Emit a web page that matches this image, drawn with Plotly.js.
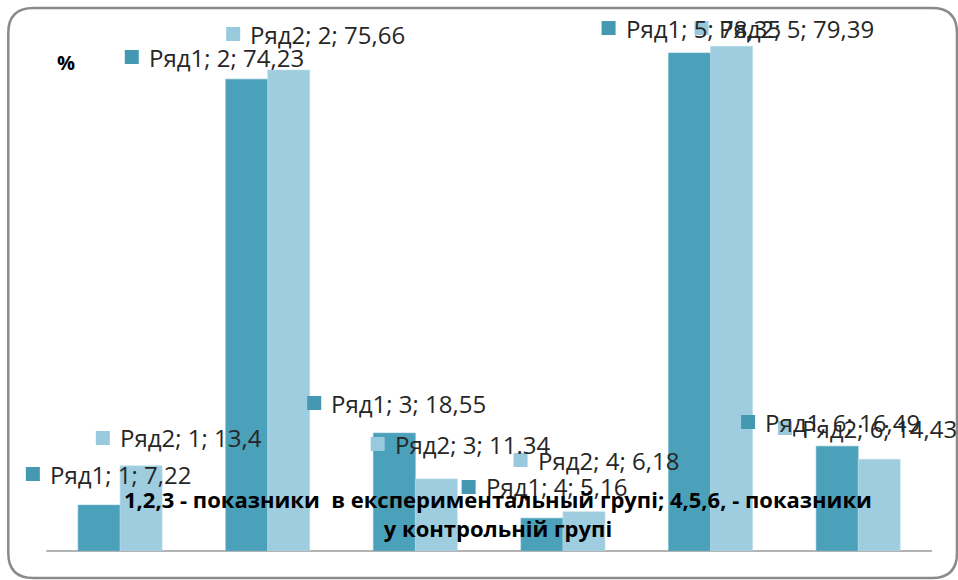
<!DOCTYPE html>
<html><head><meta charset="utf-8">
<script src="https://cdn.plot.ly/plotly-3.0.1.min.js"></script>
<style>html,body{margin:0;padding:0;background:#fff;}#chart{width:958px;height:580px;}</style>
</head><body><div id="chart"></div>
<script>
// ---- data ----
const categories = [1, 2, 3, 4, 5, 6];
const series1Name = 'Ряд1';
const series2Name = 'Ряд2';
const series1 = [7.22, 74.23, 18.55, 5.16, 78.35, 16.49];
const series2 = [13.4, 75.66, 11.34, 6.18, 79.39, 14.43];
const series1Labels = ['7,22', '74,23', '18,55', '5,16', '78,35', '16,49'];
const series2Labels = ['13,4', '75,66', '11.34', '6,18', '79,39', '14,43'];
const axisTitle = '1,2,3 - показники  в експериментальный групі; 4,5,6, - показники<br>у контрольній групі';
const unitLabel = '%';

// ---- label layout (Excel-style manual label placement) ----
const s1LabelX = [0.409, 1.079, 2.315, 3.361, 4.309, 5.254];
const s1LabelY = [12.11, 77.71, 23.28, 10.07, 82.27, 20.29];
const s2LabelX = [0.883, 1.766, 2.745, 3.713, 4.939, 5.504];
const s2LabelY = [17.78, 81.33, 16.83, 14.31, 82.27, 19.35];

const dark = '#4ba0ba', light = '#9ecde0';
const darkKey = '#4498b1', lightKey = '#98c9dc';
const txtFont = {family: 'Open Sans, sans-serif', size: 24, color: '#262626'};

const traces = [
  {type: 'bar', x: categories, y: series1, name: series1Name, marker: {color: dark, line: {color: '#6cb3c8', width: 0.6}}, hoverinfo: 'skip'},
  {type: 'bar', x: categories, y: series2, name: series2Name, marker: {color: light, line: {color: '#b8dbe8', width: 0.6}}, hoverinfo: 'skip'},
  {type: 'scatter', mode: 'markers', x: s1LabelX, y: s1LabelY, marker: {symbol: 'square', size: 14, color: darkKey}, cliponaxis: false, hoverinfo: 'skip'},
  {type: 'scatter', mode: 'markers', x: s2LabelX, y: s2LabelY, marker: {symbol: 'square', size: 14, color: lightKey}, cliponaxis: false, hoverinfo: 'skip'}
];

const annotations = [];
categories.forEach((c, i) => {
  annotations.push({x: s1LabelX[i], y: s1LabelY[i], xref: 'x', yref: 'y', text: series1Name + '; ' + c + '; ' + series1Labels[i],
    showarrow: false, xanchor: 'left', yanchor: 'middle', xshift: 15, font: txtFont});
  annotations.push({x: s2LabelX[i], y: s2LabelY[i], xref: 'x', yref: 'y', text: series2Name + '; ' + c + '; ' + series2Labels[i],
    showarrow: false, xanchor: 'left', yanchor: 'middle', xshift: 15, font: txtFont});
});
annotations.push({x: 0.56, y: 76.9, xref: 'x', yref: 'y', text: '<b>' + unitLabel + '</b>', showarrow: false,
  xanchor: 'left', yanchor: 'middle', font: {family: 'Open Sans, sans-serif', size: 20, color: '#000'}});
annotations.push({x: 3.561, y: 5.9, xref: 'x', yref: 'y', text: '<b>' + axisTitle + '</b>', showarrow: false,
  xanchor: 'center', yanchor: 'middle', align: 'center', font: {family: 'Open Sans, sans-serif', size: 22, color: '#000'}});

// plot box in pixels: category axis spans x 0.5..6.5 between px 46 and 932
const catPx = 886 / 6;
const xMin = 0.2, xMax = 6.5;
const R = 932, T = 11, H = 540;
const L = R - (xMax - xMin) * catPx, W = R - L;
const px = v => ((v - L) / W).toFixed(5);
const py = v => ((T + H - v) / H).toFixed(5);
const x0 = 8, x1 = 957, y0 = 8, y1 = 578, r = 25;
const path = `M${px(x0 + r)},${py(y0)} L${px(x1 - r)},${py(y0)} Q${px(x1)},${py(y0)} ${px(x1)},${py(y0 + r)} ` +
  `L${px(x1)},${py(y1 - r)} Q${px(x1)},${py(y1)} ${px(x1 - r)},${py(y1)} L${px(x0 + r)},${py(y1)} ` +
  `Q${px(x0)},${py(y1)} ${px(x0)},${py(y1 - r)} L${px(x0)},${py(y0 + r)} Q${px(x0)},${py(y0)} ${px(x0 + r)},${py(y0)} Z`;

const layout = {
  width: 958, height: 580,
  margin: {l: L, r: 958 - R, t: T, b: 580 - T - H},
  paper_bgcolor: '#fff', plot_bgcolor: 'rgba(0,0,0,0)',
  showlegend: false,
  barmode: 'group', bargap: 0.431, bargroupgap: 0,
  xaxis: {range: [xMin, xMax], showline: false, showgrid: false, zeroline: false,
    showticklabels: false, ticks: '', fixedrange: true},
  yaxis: {range: [0, 84.95], visible: false, showgrid: false, zeroline: false, fixedrange: true},
  annotations: annotations,
  shapes: [
    {type: 'path', xref: 'paper', yref: 'paper', path: path, line: {color: '#8a8a8a', width: 2.5}, layer: 'below'},
    {type: 'line', xref: 'x', yref: 'paper', x0: 0.5, x1: xMax, y0: 0, y1: 0, line: {color: '#9a9a9a', width: 1.5}, layer: 'below'}
  ]
};

Plotly.newPlot('chart', traces, layout, {displayModeBar: false, staticPlot: true});
</script></body></html>
